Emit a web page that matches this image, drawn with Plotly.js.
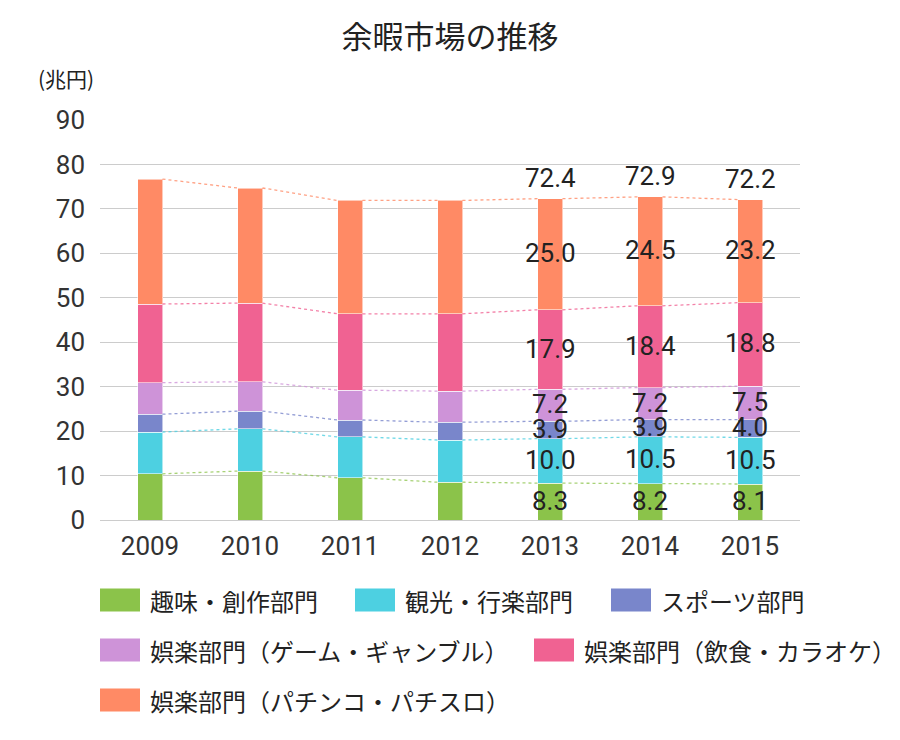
<!DOCTYPE html>
<html>
<head>
<meta charset="utf-8">
<script src="https://cdn.plot.ly/plotly-3.0.1.min.js"></script>
<style>html,body{margin:0;padding:0;background:#fff;}#chart{width:900px;height:740px;}</style>
</head>
<body>
<div id="chart"></div>
<script>
// ---- data ----
const years = ['2009', '2010', '2011', '2012', '2013', '2014', '2015'];
const seriesNames = ['趣味・創作部門', '観光・行楽部門', 'スポーツ部門',
  '娯楽部門（ゲーム・ギャンブル）', '娯楽部門（飲食・カラオケ）', '娯楽部門（パチンコ・パチスロ）'];
const hobby    = [10.4, 11.0, 9.5, 8.5, 8.3, 8.2, 8.1];
const tourism  = [9.4, 9.5, 9.2, 9.5, 10.0, 10.5, 10.5];
const sports   = [4.0, 4.0, 3.8, 4.0, 3.9, 3.9, 4.0];
const games    = [7.1, 6.6, 6.7, 7.0, 7.2, 7.2, 7.5];
const food     = [17.7, 17.7, 17.2, 17.4, 17.9, 18.4, 18.8];
const pachinko = [28.1, 25.9, 25.5, 25.5, 25.0, 24.5, 23.2];
const totalLabels = ['', '', '', '', '72.4', '72.9', '72.2'];
const labelledYears = ['2013', '2014', '2015'];
const yTicks = [0, 10, 20, 30, 40, 50, 60, 70, 80, 90];
const unitLabel = '(兆円)';

// ---- styles ----
const colors = ['#8BC34A', '#4DD0E1', '#7986CB', '#CE93D8', '#F06292', '#FF8A65'];
const lineColors = ['rgba(139,195,74,0.75)', 'rgba(77,208,225,0.8)', 'rgba(121,134,203,0.8)',
  'rgba(206,147,216,0.8)', 'rgba(240,98,146,0.8)', 'rgba(255,138,101,0.8)'];
const numFont = 'Roboto, "Noto Sans CJK JP", sans-serif';
const jpFont = '"Noto Sans CJK JP", sans-serif';
const barWidth = 0.25;

const series = [hobby, tourism, sports, games, food, pachinko];
const xIdx = years.map((_, i) => i);

const plotL = 100, plotR = 800, plotT = 120, plotB = 520;
const px = v => (v - plotL) / (plotR - plotL);
const py = v => (plotB - v) / (plotB - plotT);

const traces = [];
const annotations = [];
const cumBase = years.map(() => 0);
const cumTops = [];

series.forEach((vals, k) => {
  traces.push({
    type: 'bar', x: xIdx, y: vals, width: barWidth, name: seriesNames[k],
    marker: { color: colors[k], line: { color: 'rgba(255,255,255,0.55)', width: 1 } },
    showlegend: false, hoverinfo: 'skip'
  });
  const tops = vals.map((v, i) => cumBase[i] + v);
  vals.forEach((v, i) => {
    if (labelledYears.includes(years[i])) {
      annotations.push({
        x: i, y: cumBase[i] + v / 2, xref: 'x', yref: 'y', text: v.toFixed(1),
        showarrow: false, yshift: 1, font: { family: numFont, size: 26, color: '#222' }
      });
    }
  });
  tops.forEach((t, i) => cumBase[i] = t);
  cumTops.push(tops);
});

// dotted connector lines between bars
cumTops.forEach((tops, k) => {
  const lx = [], ly = [];
  for (let i = 0; i < tops.length - 1; i++) {
    lx.push(i + barWidth / 2, i + 1 - barWidth / 2, null);
    ly.push(tops[i], tops[i + 1], null);
  }
  traces.push({
    type: 'scatter', mode: 'lines', x: lx, y: ly,
    line: { color: lineColors[k], width: 1.3, dash: 'dot' },
    showlegend: false, hoverinfo: 'skip'
  });
});

// totals
totalLabels.forEach((t, i) => {
  if (t) {
    annotations.push({
      x: i, y: cumBase[i], xref: 'x', yref: 'y', text: t, showarrow: false,
      yanchor: 'bottom', yshift: 4, font: { family: numFont, size: 26, color: '#222' }
    });
  }
});

// unit label
annotations.push({
  x: px(66), y: py(78), xref: 'paper', yref: 'paper', xanchor: 'center', yanchor: 'middle',
  text: unitLabel, showarrow: false,
  font: { family: jpFont, size: 21, color: '#222' }
});

// ---- custom legend (pixel positions converted to paper coords) ----
const legendPos = [
  [100, 600], [355, 600], [611, 600],
  [100, 650], [534, 650],
  [100, 700]
];
const shapes = [];
legendPos.forEach((p, k) => {
  shapes.push({
    type: 'rect', xref: 'paper', yref: 'paper',
    x0: px(p[0]), x1: px(p[0] + 40), y0: py(p[1] - 11.5), y1: py(p[1] + 11.5),
    fillcolor: colors[k], line: { width: 0 }
  });
  annotations.push({
    x: px(p[0] + 48), y: py(p[1]), xref: 'paper', yref: 'paper', xanchor: 'left', yanchor: 'middle',
    text: seriesNames[k], showarrow: false, font: { family: jpFont, size: 24, color: '#222' }
  });
});

const layout = {
  width: 900, height: 740,
  margin: { l: plotL, r: 900 - plotR, t: plotT, b: 740 - plotB },
  paper_bgcolor: '#fff', plot_bgcolor: '#fff',
  barmode: 'stack', showlegend: false,
  title: {
    text: '余暇市場の推移', x: 0.5, xanchor: 'center', y: 1 - 37 / 740, yanchor: 'middle',
    yref: 'container', font: { family: jpFont, size: 31, color: '#222' }
  },
  xaxis: {
    range: [-0.5, 6.5], tickmode: 'array', tickvals: xIdx, ticktext: years,
    showgrid: false, zeroline: false, showline: false, ticks: '',
    ticklabelstandoff: 8,
    tickfont: { family: numFont, size: 26, color: '#333' }
  },
  yaxis: {
    range: [0, 90], tickmode: 'array', tickvals: yTicks,
    showgrid: true, gridcolor: '#cccccc', gridwidth: 1, zeroline: true, zerolinecolor: '#cccccc',
    zerolinewidth: 1, showline: false, ticks: '', ticklabelstandoff: 14,
    tickfont: { family: numFont, size: 26, color: '#333' }
  },
  shapes: shapes,
  annotations: annotations
};

Plotly.newPlot('chart', traces, layout, { staticPlot: true, displayModeBar: false });
</script>
</body>
</html>
